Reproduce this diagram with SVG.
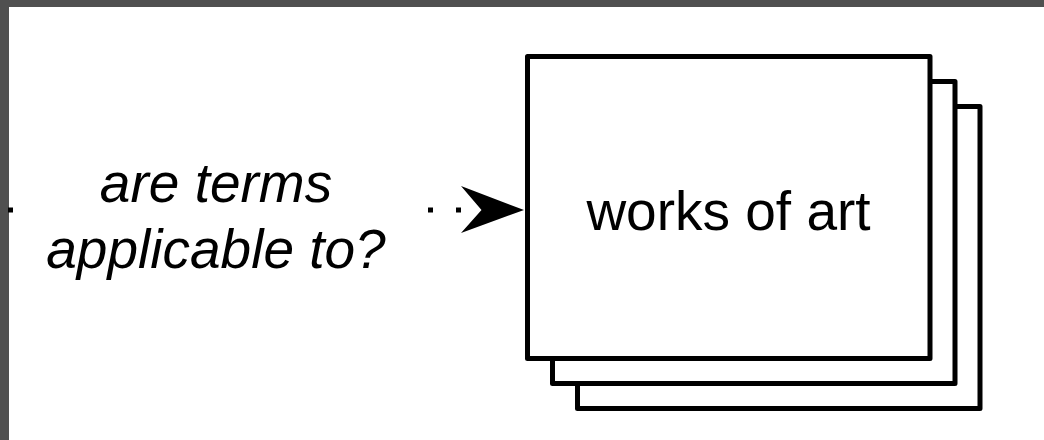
<svg xmlns="http://www.w3.org/2000/svg" width="1044" height="440" viewBox="0 0 1044 440">
<style>
.frame{fill:#ffffff;stroke:#000000;stroke-width:5;stroke-linejoin:round}
.lbl{font-family:"Liberation Sans",Arial,sans-serif;font-size:55px;fill:#000000}
.it{font-style:italic}
.conn{stroke:#000000;stroke-width:5;stroke-dasharray:5 23;fill:none}
</style>
<rect x="0" y="0" width="1044" height="440" fill="#505050"/>
<rect x="9" y="7" width="1035" height="433" fill="#ffffff"/>
<g id="connectors">
<line class="conn" x1="461" y1="210" x2="8" y2="210"/>
<polygon points="524,210 461,186 481.5,210 461,233" fill="#000000"/>
</g>
<g id="label-applicable">
<rect x="15" y="150" width="410" height="140" fill="#ffffff"/>
<text class="lbl it" x="216" y="202" text-anchor="middle">are terms</text>
<text class="lbl it" x="216" y="268" text-anchor="middle">applicable to?</text>
</g>
<g id="works-of-art">
<rect class="frame" x="577.5" y="106.5" width="402.5" height="302"/>
<rect class="frame" x="552.5" y="81.5" width="402.5" height="302"/>
<rect class="frame" x="527.5" y="56.5" width="402.5" height="302"/>
<text class="lbl" x="728.5" y="230" text-anchor="middle">works of art</text>
</g>
</svg>
